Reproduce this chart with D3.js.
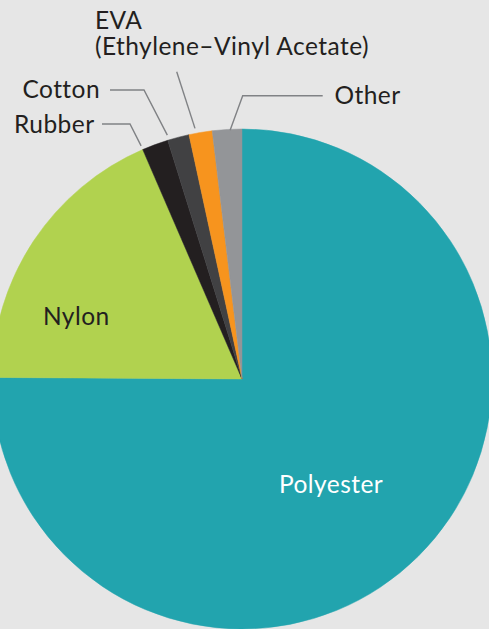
<!DOCTYPE html>
<html>
<head>
<meta charset="utf-8">
<script src="https://cdn.jsdelivr.net/npm/d3@7"></script>
<style>
  html, body { margin: 0; padding: 0; background: #e6e6e6; }
  svg { display: block; }
  text { font-family: Lato, "Open Sans", sans-serif; letter-spacing: 0.45px; }
</style>
</head>
<body>
<svg id="chart" width="489" height="629"></svg>
<script>
// Data
const categories = ["Polyester", "Nylon", "Rubber", "Cotton", "EVA", "Other"];
const shares = [75.1, 18.4, 1.7, 1.4, 1.5, 1.9];
const colors = ["#22a4ae", "#b1d24f", "#231f20", "#414143", "#f7941e", "#939598"];

const W = 489, H = 629;
const cx = 242, cy = 379, R = 250;
const FS = 24.5;

const svg = d3.select("#chart");
svg.append("rect").attr("width", W).attr("height", H).attr("fill", "#e6e6e6");

const pie = d3.pie().sort(null).value(d => d.v);
const arcs = pie(categories.map((c, i) => ({ c, v: shares[i], col: colors[i] })));
const arc = d3.arc().innerRadius(0).outerRadius(R);

const g = svg.append("g").attr("transform", `translate(${cx},${cy})`);
g.selectAll("path").data(arcs).join("path")
  .attr("d", arc)
  .attr("fill", d => d.data.col)
  .attr("stroke", d => d.data.col)
  .attr("stroke-width", 0.5);

// inside labels
const inside = {
  Polyester: { x: 279, y: 493, fill: "#ffffff", anchor: "start" },
  Nylon: { x: 43, y: 325, fill: "#231f20", anchor: "start" }
};
Object.entries(inside).forEach(([k, o]) => {
  svg.append("text").attr("x", o.x).attr("y", o.y)
    .attr("fill", o.fill).attr("font-size", FS).attr("text-anchor", o.anchor).text(k);
});

// callouts: t = fraction along the slice for leader endpoint
const callouts = [
  { c: "Rubber", t: 0.0, rr: 4, pts: [[130, 124], [102, 124]], lines: ["Rubber"], tx: 94.5, ty: 132.5, anchor: "end" },
  { c: "Cotton", t: 0.05, rr: 5, pts: [[144, 90], [110, 90]], lines: ["Cotton"], tx: 100, ty: 97.5, anchor: "end" },
  { c: "EVA", t: 0.3, rr: 5, pts: [[176.7, 71.7]], lines: ["EVA", "(Ethylene\u2013Vinyl Acetate)"], tx: 95, ty: 29, anchor: "start" },
  { c: "Other", t: 0.6, rr: -1, pts: [[242.7, 95.7], [322.7, 95.7]], lines: ["Other"], tx: 334.5, ty: 104, anchor: "start" }
];

callouts.forEach(co => {
  const a = arcs.find(d => d.data.c === co.c);
  const ang = a.startAngle + (a.endAngle - a.startAngle) * co.t;
  const r = R + co.rr;
  const p0 = [cx + r * Math.sin(ang), cy - r * Math.cos(ang)];
  const pts = [p0, ...co.pts];
  svg.append("path")
    .attr("d", d3.line()(pts))
    .attr("fill", "none").attr("stroke", "#808285").attr("stroke-width", 1.4);
  const t = svg.append("text").attr("x", co.tx).attr("y", co.ty)
    .attr("fill", "#231f20").attr("font-size", FS).attr("text-anchor", co.anchor);
  co.lines.forEach((l, i) => {
    t.append("tspan").attr("x", co.tx).attr("dy", i === 0 ? 0 : 26).text(l);
  });
});
</script>
</body>
</html>
